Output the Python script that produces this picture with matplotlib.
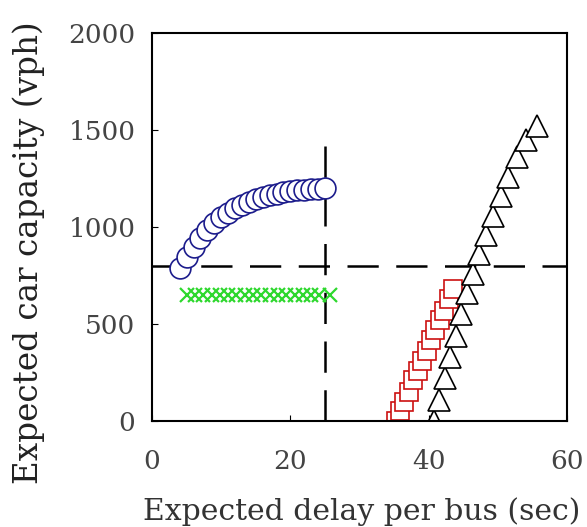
import numpy as np
from matplotlib import pyplot as plt

plt.rcParams['font.family'] = ['DejaVu Serif']

# blue circles
circle_x = [4, 5, 6, 7, 8, 9, 10, 11, 12, 13, 14, 15, 16, 17, 18, 19, 20, 21, 22, 23, 24, 25]
circle_y = [790, 845, 900, 945, 985, 1020, 1050, 1075, 1098, 1115, 1130, 1143, 1155, 1165, 1173, 1180, 1186, 1190, 1194, 1197, 1199, 1200]

# green crosses
cross_x = [5, 6.2, 7.4, 8.6, 9.8, 11, 12.2, 13.4, 14.6, 15.8, 17, 18.2, 19.4, 20.6, 21.8, 23, 24.2, 25.7]
cross_y = [650, 650, 650, 650, 650, 650, 650, 650, 650, 650, 650, 650, 650, 650, 650, 650, 650, 650]

# red squares
square_x = [35.2, 35.9, 36.5, 37.1, 37.8, 38.4, 39.0, 39.7, 40.3, 40.9, 41.6, 42.2, 42.9, 43.5]
square_y = [0, 50, 100, 150, 210, 260, 310, 360, 420, 470, 520, 570, 630, 680]

# black triangles
tri_x = [40.8, 41.5, 42.3, 43.1, 43.9, 44.7, 45.5, 46.4, 47.3, 48.3, 49.3, 50.4, 51.5, 52.7, 54.1, 55.7]
tri_y = [0, 110, 220, 330, 440, 550, 660, 760, 860, 960, 1060, 1160, 1260, 1360, 1450, 1520]

capacity_limit = 800
delay_limit = 25

fig = plt.figure(figsize=(5.87, 5.27), dpi=100)
ax = fig.add_axes([0.259, 0.201, 0.707, 0.736])

ax.plot([0, 60], [capacity_limit, capacity_limit], color='black', lw=1.8, dashes=(12.5, 7))
ax.plot([delay_limit, delay_limit], [0, 1500], color='black', lw=1.8, dashes=(12.5, 7))

ax.plot(circle_x, circle_y, 'o', ms=15, mfc='white', mec='#1c1c8c', mew=1.2, ls='none')
ax.plot(cross_x, cross_y, 'x', ms=10, color='#2ed82e', mew=1.6, ls='none')
ax.plot(square_x, square_y, 's', ms=13, mfc='white', mec='#cc1111', mew=1.2, ls='none')
ax.plot(tri_x, tri_y, '^', ms=16, mfc='white', mec='black', mew=1.2, ls='none')

ax.set_xlim(0, 60)
ax.set_ylim(0, 2000)
ax.set_xticks([0, 20, 40, 60])
ax.set_yticks([0, 500, 1000, 1500, 2000])
ax.tick_params(direction='in', length=4, labelsize=19, labelcolor='#444444')
ax.tick_params(axis='x', pad=20)
ax.tick_params(axis='y', pad=12)
for s in ax.spines.values():
    s.set_linewidth(1.5)

ax.set_xlabel('Expected delay per bus (sec)', fontsize=21.5, color='#333333')
ax.set_ylabel('Expected car capacity (vph)', fontsize=23.5, color='#222222')
ax.xaxis.set_label_coords(0.506, -0.195)
ax.yaxis.set_label_coords(-0.258, 0.435)

fig.savefig('out.png', dpi=100)
